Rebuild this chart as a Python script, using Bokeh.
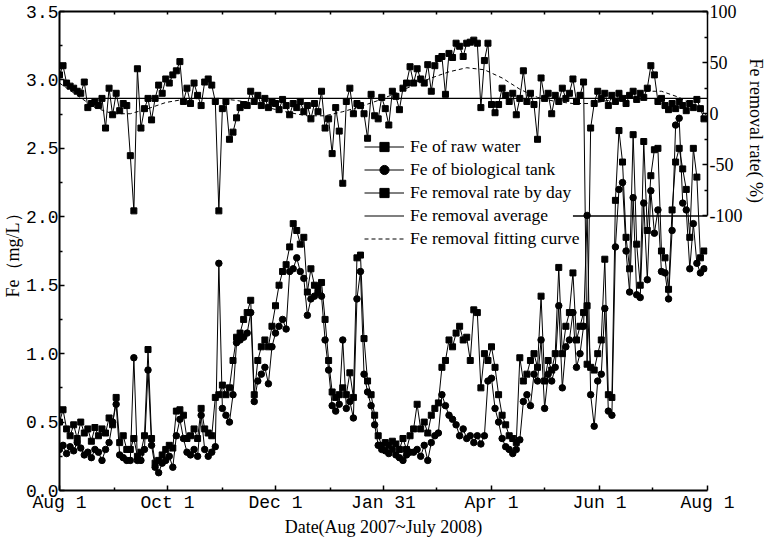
from bokeh.plotting import figure
from bokeh.models import Range1d, LinearAxis, FixedTicker, Legend, LegendItem, ColumnDataSource, Title
from bokeh.embed import file_html
from bokeh.resources import INLINE

# ---------------- data ----------------
days = list(range(0, 366, 2))  # day index from Aug 1 2007

raw_water = [
    0.50, 0.59, 0.45, 0.40, 0.48, 0.38, 0.50, 0.42, 0.45, 0.36,
    0.46, 0.40, 0.45, 0.42, 0.53, 0.48, 0.68, 0.35, 0.40, 0.30,
    0.30, 0.38, 0.25, 0.28, 0.40, 1.03, 0.38, 0.20, 0.22, 0.26,
    0.30, 0.33, 0.31, 0.58, 0.59, 0.55, 0.38, 0.40, 0.45, 0.38,
    0.60, 0.45, 0.42, 0.40, 0.68, 0.70, 0.77, 0.70, 0.75, 0.95,
    1.12, 1.15, 1.25, 1.30, 1.39, 0.70, 0.95, 1.05, 1.10, 1.05,
    1.20, 1.35, 1.50, 1.60, 1.65, 1.78, 1.95, 1.90, 1.80, 1.85,
    1.45, 1.62, 1.50, 1.48, 1.52, 1.25, 0.95, 0.72, 0.68, 0.70,
    0.75, 0.70, 0.86, 0.68, 1.70, 1.72, 1.11, 0.80, 0.70, 0.55,
    0.40, 0.33, 0.35, 0.33, 0.36, 0.34, 0.30, 0.38, 0.30, 0.40,
    0.45, 0.63, 0.45, 0.50, 0.42, 0.55, 0.60, 0.64, 0.90, 0.95,
    1.10, 1.05, 1.15, 1.20, 1.10, 1.12, 0.95, 1.32, 1.30, 0.75,
    1.00, 0.95, 1.05, 0.90, 0.70, 0.55, 0.48, 0.40, 0.38, 0.35,
    0.97, 0.80, 0.85, 0.95, 1.00, 0.90, 1.42, 0.80, 0.95, 0.88,
    1.00, 1.63, 1.00, 1.20, 1.30, 1.59, 1.10, 1.20, 1.30, 1.35,
    0.90, 0.88, 1.00, 1.10, 1.69, 0.70, 0.68, 2.12, 2.63, 2.40,
    1.85, 1.62, 2.60, 1.80, 1.50, 2.55, 1.90, 2.30, 2.49, 2.50,
    1.75, 1.70, 1.47, 2.05, 2.40, 2.50, 2.35, 2.20, 1.85, 2.50,
    2.29, 1.70, 1.75,
]

bio_tank = [
    0.30, 0.33, 0.27, 0.32, 0.29, 0.35, 0.31, 0.26, 0.28, 0.24,
    0.30, 0.28, 0.22, 0.30, 0.35, 0.50, 0.63, 0.26, 0.24, 0.22,
    0.22, 0.97, 0.22, 0.22, 0.30, 0.88, 0.33, 0.17, 0.13, 0.20,
    0.22, 0.25, 0.17, 0.40, 0.52, 0.38, 0.28, 0.26, 0.30, 0.25,
    0.55, 0.30, 0.25, 0.28, 0.32, 1.66, 0.60, 0.55, 0.50, 0.70,
    1.08, 1.10, 1.12, 1.15, 1.30, 0.65, 0.80, 0.85, 0.90, 0.78,
    1.05, 1.15, 1.20, 1.25, 1.18, 1.60, 1.62, 1.70, 1.60, 1.55,
    1.28, 1.40, 1.42, 1.45, 1.42, 1.10, 0.88, 0.62, 0.58, 0.63,
    1.10, 0.60, 0.65, 0.53, 1.40, 1.60, 0.85, 0.72, 0.62, 0.48,
    0.33, 0.30, 0.29, 0.27, 0.30, 0.26, 0.24, 0.22, 0.26, 0.28,
    0.28, 0.30, 0.25, 0.33, 0.22, 0.35, 0.40, 0.42, 0.70, 0.62,
    0.55, 0.52, 0.48, 0.40, 0.45, 0.38, 0.40, 0.35, 0.40, 0.34,
    0.40, 0.80, 0.82, 0.60, 0.50, 0.38, 0.32, 0.30, 0.27, 0.30,
    0.37, 0.65, 0.70, 0.62, 0.85, 0.80, 1.10, 0.60, 0.85, 0.80,
    0.90, 1.35, 0.75, 1.05, 1.10, 1.30, 0.90, 1.00, 1.20, 2.01,
    0.70, 0.47, 0.80, 0.85, 1.33, 0.58, 0.55, 1.78, 2.20, 2.25,
    1.75, 1.45, 2.14, 1.43, 1.41, 2.10, 1.54, 2.19, 1.88, 2.05,
    1.60, 1.59, 1.40, 1.90, 2.67, 2.72, 2.10, 2.05, 1.62, 1.95,
    1.66, 1.59, 1.62,
]

removal_rate = [
    38, 47, 30, 27, 25, 22, 20, 31, 6, 10,
    12, 8, 15, -14, 25, -1, 20, 3, 10, 8,
    -41, -95, 44, -14, 5, 15, -6, 15, 28, 20,
    34, 30, 38, 42, 51, 12, 25, 10, 30, 18,
    8, 31, 34, 28, 12, -95, 5, 12, -25, -18,
    -4, 6, 9, 8, 22, 12, 18, 8, 15, 6,
    12, 10, 4, 14, 8, -1, 10, 6, 12, 2,
    8, -5, 10, 2, 22, -14, -5, -39, 6, -17,
    -68, 12, 25, 0, 10, 8, 0, -24, 19, -2,
    -5, 16, 5, -11, 22, 17, 4, 25, 30, 46,
    30, 44, 34, 30, 48, 22, 47, 54, 56, 19,
    59, 55, 69, 66, 56, 69, 70, 72, 69, 6,
    52, 69, 9, 1, 9, 25, 18, 12, 20, -1,
    15, 42, 12, 20, 9, -25, 35, 15, 20, 0,
    18, 12, 25, 15, 20, 34, 12, 18, 31, -245,
    -14, 10, 22, 15, 20, 8, 18, 12, 20, 15,
    10, 18, 22, 14, 20, 16, 25, 47, 38, 12,
    15, 8, 4, 10, 5, 12, 8, 3, 10, 6,
    14, 5, -5,
]

fit_days = [0, 10, 20, 30, 40, 50, 60, 70, 80, 90, 100, 110, 120, 130, 140, 150, 160, 170, 180,
            190, 200, 210, 220, 230, 240, 250, 260, 270, 280, 290, 300, 310, 320, 330, 340, 350,
            360, 366]
fit_rate = [30, 18, 6, 0, 0, 5, 11, 14, 15, 15, 13, 10, 5, 1, -2, -2, 2, 7, 13,
            20, 28, 35, 41, 45, 43, 35, 24, 16, 12, 10, 10, 13, 18, 22, 22, 16,
            6, -2]

avg_days = [0, 366]
avg_rate = [15, 15]

break_days = [290, 366]
break_rate = [-100, -100]

month_major = [0, 61, 122, 183, 244, 305, 366]
month_labels = ["Aug 1", "Oct 1", "Dec 1", "Jan 31", "Apr 1", "Jun 1", "Aug 1"]
month_minor = [31, 92, 153, 213, 274, 335]

fe_ticks = [0, 0.5, 1.0, 1.5, 2.0, 2.5, 3.0, 3.5]
fe_minor = [0.25, 0.75, 1.25, 1.75, 2.25, 2.75, 3.25]
rate_ticks = [-100, -50, 0, 50, 100]
rate_minor = [-75, -25, 25, 75]

# ---------------- figure ----------------
p = figure(width=767, height=539,
           x_range=Range1d(0, 366), y_range=Range1d(0, 3.5),
           x_axis_location=None, y_axis_location=None,
           output_backend="svg", toolbar_location=None,
           min_border_left=54, min_border_right=58, min_border_top=11, min_border_bottom=43)
p.extra_y_ranges = {"rate": Range1d(-368.5, 100)}
p.outline_line_color = None
p.grid.visible = False
p.background_fill_color = "white"
p.border_fill_color = "white"

TICK_FONT = "Liberation Mono"
SERIF = "Liberation Serif"


def style(ax, width):
    ax.axis_line_color = "black"
    ax.axis_line_width = width
    ax.major_tick_in = 5
    ax.major_tick_out = 0
    ax.minor_tick_in = 3
    ax.minor_tick_out = 0
    ax.major_tick_line_color = "black"
    ax.minor_tick_line_color = "black"
    ax.major_tick_line_width = 1.5
    ax.minor_tick_line_width = 1.5
    ax.major_label_text_color = "black"
    ax.axis_label_text_color = "black"
    ax.axis_label_text_font_style = "normal"
    ax.axis_label_text_font = SERIF
    ax.axis_label_text_font_size = "18px"


yl = LinearAxis(ticker=FixedTicker(ticks=fe_ticks, minor_ticks=fe_minor),
                major_label_overrides={t: f"{t:.1f}" for t in fe_ticks},
                axis_label="Fe（mg/L）")
style(yl, 2)
yl.major_label_text_font = TICK_FONT
yl.major_label_text_font_size = "18px"
yl.major_label_standoff = 1
yl.axis_label_standoff = 0
p.add_layout(yl, "left")

xb = LinearAxis(ticker=FixedTicker(ticks=month_major, minor_ticks=month_minor),
                major_label_overrides=dict(zip(month_major, month_labels)),
                axis_label="Date(Aug 2007~July 2008)")
style(xb, 2)
xb.major_label_text_font = TICK_FONT
xb.major_label_text_font_size = "18px"
xb.major_label_standoff = 2
xb.axis_label_standoff = 1
p.add_layout(xb, "below")

xt = LinearAxis(ticker=FixedTicker(ticks=[], minor_ticks=month_major + month_minor))
style(xt, 2)
p.add_layout(xt, "above")

yr = LinearAxis(y_range_name="rate", bounds=(-100, 100),
                ticker=FixedTicker(ticks=rate_ticks, minor_ticks=rate_minor),
                major_label_overrides={t: str(t) for t in rate_ticks})
style(yr, 1.5)
yr.major_label_text_font = SERIF
yr.major_label_text_font_size = "18px"
yr.major_label_standoff = 2
p.add_layout(yr, "right")

# right-axis title placed along the bounded (upper) part of the rate axis
rate_title = Title(text="Fe removal rate( %)", align="left", offset=47, standoff=0,
                   text_font=SERIF, text_font_size="18px", text_font_style="normal",
                   text_color="black")
p.add_layout(rate_title, "right")

src = ColumnDataSource(dict(day=days, raw=raw_water, bio=bio_tank, rate=removal_rate))

l_raw = p.line("day", "raw", source=src, line_color="black", line_width=1)
s_raw = p.scatter("day", "raw", source=src, marker="square", size=6, color="black")
l_bio = p.line("day", "bio", source=src, line_color="black", line_width=1)
s_bio = p.scatter("day", "bio", source=src, marker="circle", size=6.5, color="black")
l_rate = p.line("day", "rate", source=src, y_range_name="rate", line_color="black", line_width=1)
s_rate = p.scatter("day", "rate", source=src, y_range_name="rate", marker="square", size=6, color="black")
l_avg = p.line(avg_days, avg_rate, y_range_name="rate", line_color="black", line_width=1.2)
l_fit = p.line(fit_days, fit_rate, y_range_name="rate", line_color="black", line_width=1, line_dash="4 3")
p.line(break_days, break_rate, y_range_name="rate", line_color="black", line_width=1.5)

legend = Legend(items=[
    LegendItem(label="Fe of raw water", renderers=[l_raw, s_raw]),
    LegendItem(label="Fe of biological tank", renderers=[l_bio, s_bio]),
    LegendItem(label="Fe removal rate by day", renderers=[l_rate, s_rate]),
    LegendItem(label="Fe removal average", renderers=[l_avg]),
    LegendItem(label="Fe removal fitting curve", renderers=[l_fit]),
], location=(305, 240))
legend.glyph_width = 40
legend.glyph_height = 23
legend.label_height = 23
legend.spacing = 0
legend.padding = 0
legend.margin = 0
legend.label_standoff = 6
legend.border_line_color = None
legend.background_fill_alpha = 0
legend.label_text_font = SERIF
legend.label_text_font_size = "17.5px"
legend.label_text_color = "black"
p.add_layout(legend)

open("out.html", "w").write(file_html(p, INLINE))
